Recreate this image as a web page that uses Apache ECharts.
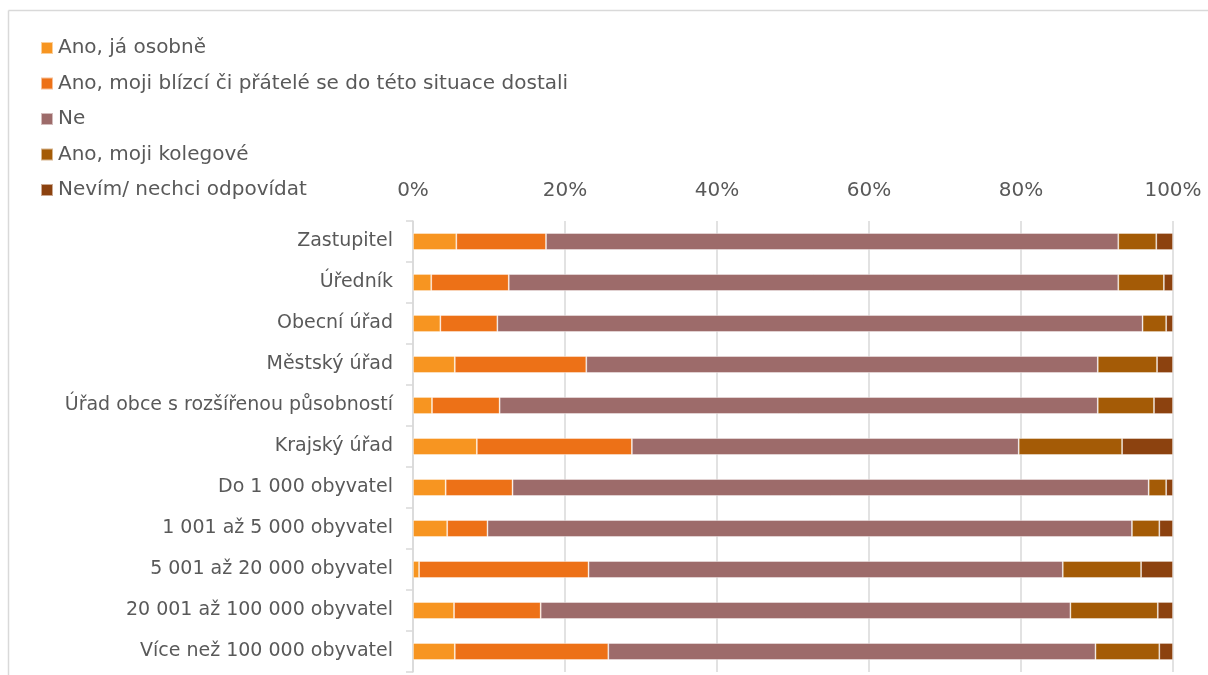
<!DOCTYPE html>
<html>
<head>
<meta charset="utf-8">
<script src="https://cdn.jsdelivr.net/npm/echarts@6/dist/echarts.min.js"></script>
<style>
html,body{margin:0;padding:0;background:#fff;}
#chart{width:1208px;height:675px;}
</style>
</head>
<body>
<div id="chart"></div>
<script>
var categories = [
  "Zastupitel",
  "Úředník",
  "Obecní úřad",
  "Městský úřad",
  "Úřad obce s rozšířenou působností",
  "Krajský úřad",
  "Do 1 000 obyvatel",
  "1 001 až 5 000 obyvatel",
  "5 001 až 20 000 obyvatel",
  "20 001 až 100 000 obyvatel",
  "Více než 100 000 obyvatel"
];
var seriesNames = [
  "Ano, já osobně",
  "Ano, moji blízcí či přátelé se do této situace dostali",
  "Ne",
  "Ano, moji kolegové",
  "Nevím/ nechci odpovídat"
];
var anoOsobne   = [5.7, 2.4, 3.6, 5.5, 2.5, 8.4, 4.3, 4.5, 0.8, 5.4, 5.5];
var anoBlizci   = [11.8, 10.2, 7.5, 17.3, 8.9, 20.4, 8.8, 5.3, 22.3, 11.4, 20.2];
var ne          = [75.3, 80.2, 84.9, 67.3, 78.7, 50.9, 83.7, 84.8, 62.4, 69.7, 64.1];
var anoKolegove = [5.0, 6.0, 3.1, 7.8, 7.4, 13.6, 2.3, 3.6, 10.3, 11.5, 8.4];
var nevim       = [2.2, 1.2, 0.9, 2.1, 2.5, 6.7, 0.9, 1.8, 4.2, 2.0, 1.8];
var tickValues  = [0, 20, 40, 60, 80, 100];

var colors = ["#F79521", "#ED7117", "#9D6B6A", "#A45B06", "#8C420F"];
var allData = [anoOsobne, anoBlizci, ne, anoKolegove, nevim];
var FONT = "DejaVu Sans";
var TXT = "#595959";

var chart = echarts.init(document.getElementById('chart'), null, {renderer: 'canvas'});
var series = allData.map(function (d, i) {
  return {
    name: seriesNames[i],
    type: 'bar',
    stack: 'total',
    barWidth: 17,
    data: d,
    itemStyle: { color: colors[i], borderColor: 'rgba(255,255,255,0.55)', borderWidth: 0.8 },
    emphasis: { disabled: true }
  };
});

chart.setOption({
  animation: false,
  color: colors,
  graphic: [
    { type: 'line', shape: { x1: 8.5, y1: 10.5, x2: 1208, y2: 10.5 }, style: { stroke: '#d9d9d9', lineWidth: 1.5 } },
    { type: 'line', shape: { x1: 8.5, y1: 10.5, x2: 8.5, y2: 675 }, style: { stroke: '#d9d9d9', lineWidth: 1.5 } }
  ],
  legend: {
    orient: 'vertical',
    left: 40,
    top: 38,
    padding: 0,
    itemWidth: 12,
    itemHeight: 12,
    itemGap: 15.5,
    icon: 'rect',
    selectedMode: false,
    textStyle: { fontFamily: FONT, fontSize: 20, color: TXT, lineHeight: 20, padding: [0, 0, 0, 0] },
    data: seriesNames
  },
  grid: { left: 413, right: 35, top: 221, bottom: 3, containLabel: false },
  xAxis: {
    type: 'value',
    position: 'top',
    min: tickValues[0],
    max: tickValues[tickValues.length - 1],
    interval: 20,
    axisLine: { show: false },
    axisTick: { show: false },
    axisLabel: { formatter: '{value}%', fontFamily: FONT, fontSize: 20, color: TXT, margin: 20 },
    splitLine: { show: true, lineStyle: { color: '#d9d9d9', width: 1.5 } }
  },
  yAxis: {
    type: 'category',
    inverse: true,
    data: categories,
    axisLine: { show: true, lineStyle: { color: '#d9d9d9', width: 1.5 } },
    axisTick: { show: true, length: 7, lineStyle: { color: '#d9d9d9', width: 1.5 } },
    axisLabel: { fontFamily: FONT, fontSize: 19, color: TXT, margin: 20 }
  },
  series: series
});
</script>
</body>
</html>
